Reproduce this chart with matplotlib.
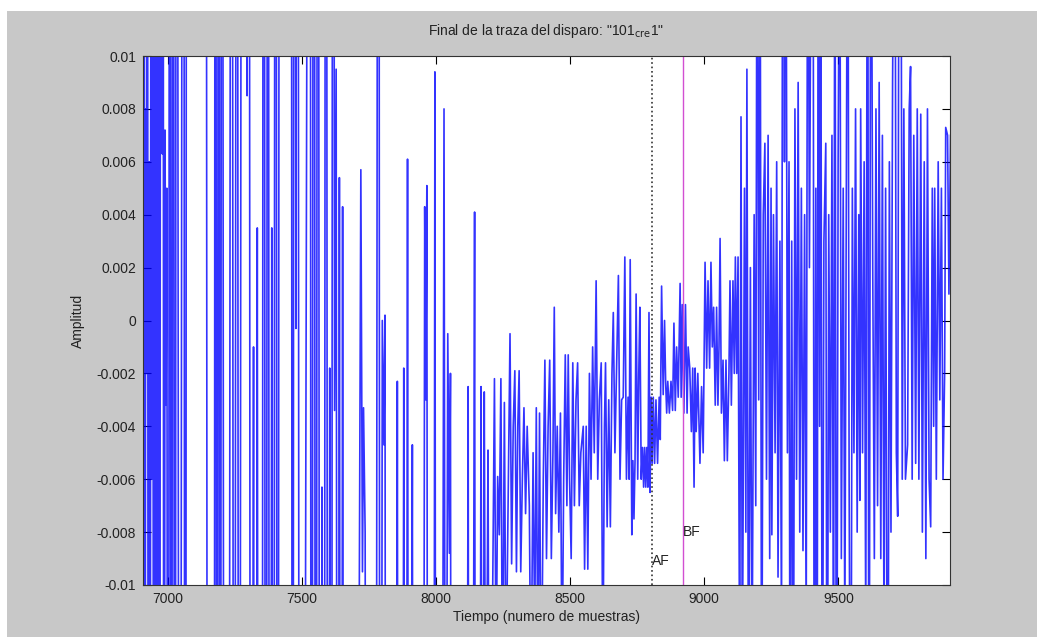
import numpy as np
import matplotlib
matplotlib.use("Agg")
import matplotlib.pyplot as plt
from matplotlib.patches import Rectangle

plt.rcParams['font.family'] = ['Liberation Sans', 'DejaVu Sans']
plt.rcParams['axes.unicode_minus'] = False

# turning points of the trace: (sample, amplitude x 1e-3)
# values beyond +-10 are off the visible window
early = [
    (6905, 45), (6909, -3), (6912, 30), (6915, -40), (6918, 8), (6921, -2),
    (6924, 50), (6928, -45), (6931, 6), (6934, -50), (6938, 35), (6941, -6),
    (6944, 40), (6948, -55), (6951, 10), (6954, -35), (6958, 45), (6962, -50),
    (6966, 40), (6970, -45), (6975, 60), (6980, 6.3), (6983, 40), (6986, -60),
    (6990, 7.2), (6994, -3.2), (6997, 5), (7002, -60), (7008, 60), (7014, -60),
    (7020, 60), (7027, -60), (7033, 60), (7045, -60), (7058, 60), (7066, -60),
    (7072, 70), (7140, 80), (7150, -60), (7172, -70), (7178, 60), (7184, -60),
    (7190, 60), (7196, -60), (7202, 60), (7212, -60), (7225, -70), (7238, 60),
    (7248, -60), (7258, 60), (7266, -60), (7278, 60), (7290, 70), (7296, 8.5),
    (7302, 60), (7310, -60), (7320, -1), (7326, -60), (7334, 3.5), (7340, -60),
    (7350, -70), (7358, 60), (7366, -60), (7374, 60), (7380, -60), (7388, 3.5),
    (7394, -60), (7402, 60), (7410, -60), (7418, 60), (7426, 70), (7458, 80),
    (7466, -60), (7472, 60), (7478, -0.3), (7484, 60), (7492, -60), (7500, -70),
    (7530, 60), (7536, -60), (7545, 60), (7552, -60), (7560, 60), (7568, -60),
    (7575, -6.3), (7582, -60), (7590, 60), (7598, -60), (7604, -1.8), (7610, -60),
    (7616, 60), (7622, -3.4), (7628, 9.5), (7634, -60), (7640, 5.4), (7646, -60),
    (7652, 4.3), (7658, -60),
]

mid = [
    (7700, -50), (7720, 5.7), (7726, -9.5), (7730, -3.3), (7736, -8), (7745, -60),
    (7776, -40), (7786, 60), (7792, -60), (7800, 0), (7806, -4.7), (7810, 0.2),
    (7815, -60), (7850, -50), (7856, -2.3), (7862, -60), (7874, -40), (7880, -1.8),
    (7886, -60), (7894, 6.1), (7900, -60), (7912, -4.7), (7918, -60), (7950, -50),
    (7958, 4.3), (7962, -3), (7966, 5.1), (7972, -60), (7990, -50), (7996, 9.4),
    (8002, -60), (8020, -40), (8030, 8.0), (8036, -30), (8044, -0.5), (8050, -8.8),
    (8054, -2), (8060, -60), (8110, -50), (8120, -2.5), (8126, -60), (8136, -30),
    (8144, 4.1), (8150, -60),
]

quiet = [
    (8160, -40), (8168, -2.5), (8174, -30), (8180, -2.7), (8186, -20), (8194, -4.9),
    (8200, -25), (8210, -12), (8218, -2.2), (8224, -14), (8230, -5.9), (8236, -8.1),
    (8242, -2.2), (8248, -15), (8255, -3.1), (8261, -14), (8270, -6), (8276, -0.5),
    (8282, -9.2), (8288, -4), (8294, -1.9), (8300, -9.5), (8305, -4), (8310, -1.9),
    (8316, -9.5), (8322, -6), (8328, -3.3), (8334, -7.3), (8340, -4), (8348, -7),
    (8354, -15), (8362, -5), (8368, -12), (8374, -3.3), (8380, -14), (8386, -3.5),
    (8392, -16), (8400, -6), (8406, -1.5), (8412, -9), (8418, -4), (8424, -1.5),
    (8430, -9), (8436, -5), (8441, 0.5), (8446, -7.3), (8452, -4), (8458, -8),
    (8464, -3.5), (8470, -14), (8476, -6), (8482, -1.3), (8488, -7), (8493, -1.3),
    (8498, -6), (8504, -9), (8510, -1.6), (8516, -7), (8522, -3), (8528, -1.6),
    (8534, -7), (8540, -5), (8549, -4), (8554, -9.4), (8560, -4), (8566, -9.4),
    (8572, -2), (8578, -6), (8584, -1), (8590, -5), (8597, 1.5), (8603, -6),
    (8609, -3), (8616, -1.6), (8622, -14), (8628, -4), (8632, -1.6), (8638, -7.8),
    (8644, -3), (8650, -7.8), (8656, -2), (8661, 0.3), (8667, -5), (8673, -2),
    (8680, 1.7), (8686, -6), (8692, -3), (8698, -2.9), (8704, 2.4), (8710, -6),
    (8716, -2.9), (8720, -6), (8724, 2.3), (8730, -8.1), (8734, -5.3), (8738, -7.5),
    (8742, -5.3), (8746, 1.0), (8752, -6), (8756, -2), (8760, 0.5), (8765, -6),
    (8770, -4.8), (8774, -6.3), (8778, -4.8), (8782, -6.3), (8786, -4.8), (8790, -6.3),
    (8794, 0.3), (8798, -6.5), (8802, -2.9), (8806, -5.4), (8810, -2.9), (8815, -5.4),
    (8820, -3), (8826, -5.4), (8832, -2.9), (8836, -4.5), (8841, 1.3), (8847, -2.8),
    (8852, 0), (8856, -2.3), (8860, -3.5), (8864, -2.3), (8870, -3.5), (8876, -2.3),
    (8882, -3.4), (8887, -0.1), (8892, -3.4), (8897, -1), (8903, -2.9), (8910, 1.4),
    (8914, -2.9), (8918, 0.6), (8924, -3.5), (8930, 0.6), (8936, -3.5), (8940, -1),
    (8946, -1.8), (8952, -4.2), (8957, -1.8), (8962, -6.3), (8966, -1.8), (8970, -4.2),
    (8976, -2), (8984, -5.4), (8990, -2.5), (8996, -5), (9003, 2.2), (9009, -1.8),
    (9014, 1.5), (9020, -1.8), (9025, 2.2), (9030, -1), (9035, 0.5), (9041, -3.2),
    (9046, 0.5), (9051, -3.2), (9055, -1), (9059, 3.1), (9064, -3.5), (9070, -1.5),
    (9075, -5.3), (9081, -1.5), (9086, -5.3), (9092, -2), (9096, 1.5), (9101, -3.2),
    (9107, 1.5), (9112, -2), (9116, 2.4), (9121, -2), (9126, 2.4),
]

late = [
    (9132, -14), (9137, 7.7), (9142, -14), (9150, 5), (9155, -8), (9159, 9.5),
    (9165, -16), (9172, 2), (9178, -14), (9186, 4), (9192, -7), (9197, 20),
    (9203, -3), (9208, 18), (9214, -18), (9220, 4), (9226, 6.7), (9232, -6),
    (9238, 7), (9244, -9), (9249, 5.0), (9252, -8.1), (9258, 4), (9264, -5),
    (9270, 6), (9275, -9.7), (9282, 3), (9288, -12), (9293, 25), (9299, 6),
    (9304, 20), (9310, -5), (9316, 6), (9320, -20), (9326, 3), (9332, -18),
    (9338, 8.0), (9344, -6), (9350, 9), (9356, -8), (9362, 5), (9368, -8.7),
    (9374, 4), (9380, -12), (9386, 22), (9392, 2), (9398, 15), (9405, 25),
    (9410, -20), (9416, 5), (9420, -25), (9425, 20), (9430, -4), (9434, 18),
    (9440, -20), (9446, 3), (9453, 6.7), (9458, -22), (9464, 4), (9470, -8),
    (9476, 7), (9482, -14), (9487, 20), (9493, -24), (9499, 6), (9505, 18),
    (9511, -9), (9518, 5), (9524, -12), (9530, 7), (9535, 20), (9540, -6),
    (9546, -22), (9552, 5), (9558, -5), (9564, 8), (9570, -8), (9576, 4),
    (9580, -6.8), (9583, 8.0), (9590, -5), (9596, 6), (9602, -12), (9609, 24),
    (9614, -24), (9621, 22), (9628, 2), (9634, -9), (9640, 8), (9646, -7),
    (9652, 9), (9658, -9), (9664, 7), (9670, -12), (9676, 5), (9684, -22),
    (9690, 6), (9696, -8), (9702, 9), (9710, 22), (9716, -5), (9721, -7.4),
    (9726, 18), (9732, 24), (9738, -6), (9744, 8), (9750, -6), (9758, -4.7),
    (9764, 8), (9769, 9.6), (9775, -6), (9781, 7), (9788, -5.4), (9794, 8),
    (9800, -6), (9807, 7.8), (9813, -8), (9820, 6), (9826, -9), (9832, 8),
    (9838, -6), (9844, -7.8), (9850, 5), (9855, -4), (9859, 5.0), (9865, -6),
    (9872, 6), (9878, -3), (9884, 5), (9890, -6), (9896, -2.0), (9900, 7.3),
    (9907, 7), (9912, 1), (9918, 7),
]

af_sample = 8806
bf_sample = 8920
x_ticks = [7000, 7500, 8000, 8500, 9000, 9500]
y_ticks = [-0.01, -0.008, -0.006, -0.004, -0.002, 0, 0.002, 0.004, 0.006, 0.008, 0.01]
y_labels = ['-0.01', '-0.008', '-0.006', '-0.004', '-0.002', '0',
            '0.002', '0.004', '0.006', '0.008', '0.01']

trace = np.array(early + mid + quiet + late, dtype=float)
t = trace[:, 0]
amp = trace[:, 1] * 1e-3

fig = plt.figure(figsize=(10.37, 6.37), dpi=100, facecolor='white')
# gray figure area (screenshot had a thin white border at top/left)
fig.add_artist(Rectangle((7 / 1037, 0), 1, 1 - 11 / 637, transform=fig.transFigure,
                         facecolor='#c8c8c8', edgecolor='none', zorder=-1))
ax = fig.add_axes([143 / 1037, 52 / 637, 807 / 1037, 529 / 637])

ax.plot(t, amp, color='b', lw=1.2, alpha=0.8)
ax.axvline(af_sample, color='#333333', ls=':', lw=1.2)
ax.axvline(bf_sample, color='#d24fd2', lw=1.0)
ax.text(af_sample, -0.0091, 'AF', fontsize=10, va='center', color='#222222')
ax.text(bf_sample, -0.0080, 'BF', fontsize=10, va='center', color='#222222')

ax.set_xlim(6908, 9916)
ax.set_ylim(-0.01, 0.01)
ax.set_xticks(x_ticks)
ax.set_yticks(y_ticks)
ax.set_yticklabels(y_labels)
ax.tick_params(direction='in', top=True, right=True, length=5.5, width=0.8,
               labelsize=10, labelcolor='#222222', pad=5)
for s in ax.spines.values():
    s.set_linewidth(0.8)
    s.set_color('#333333')

ax.set_title('Final de la traza del disparo: "101$_{\\rm cre}$1"', fontsize=10,
             color='#222222', pad=15)
ax.set_xlabel('Tiempo (numero de muestras)', fontsize=10, color='#222222', labelpad=3)
ax.set_ylabel('Amplitud', fontsize=10, color='#222222', labelpad=8)

fig.savefig('out.png', dpi=100, facecolor=fig.get_facecolor())
